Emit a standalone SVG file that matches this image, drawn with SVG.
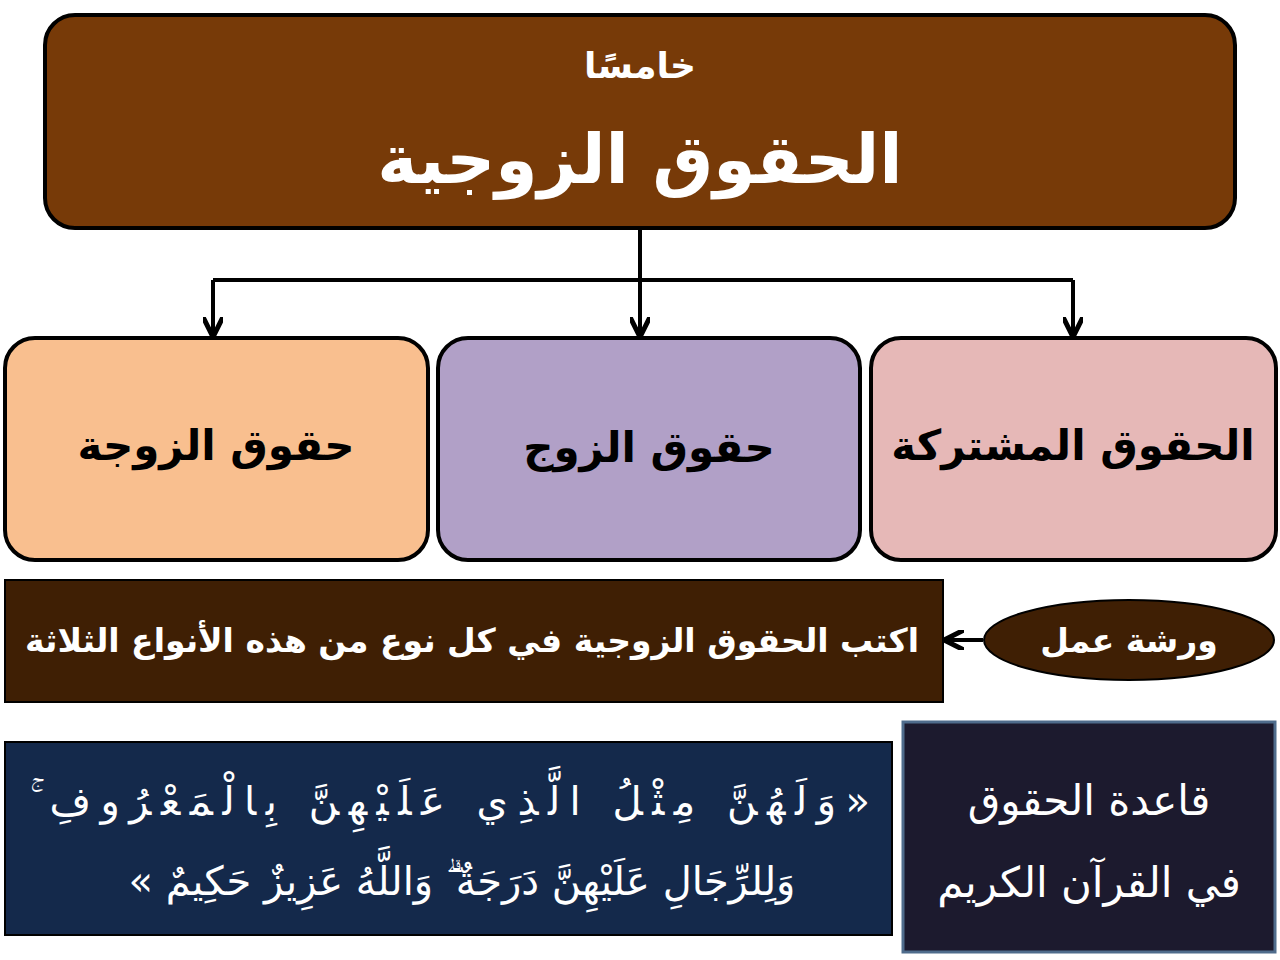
<svg xmlns="http://www.w3.org/2000/svg" width="1280" height="960" viewBox="0 0 1280 960">
<style>
text{font-family:"DejaVu Sans","Noto Sans",sans-serif;text-anchor:middle;direction:rtl}
.w{fill:#fff}.b{fill:#000}.bold{font-weight:bold}
.box{stroke:#000;stroke-width:4}
.con{stroke:#000;stroke-width:4;fill:none}
</style>
<defs>
<marker id="ah" viewBox="0 0 10 10" refX="8" refY="5" markerWidth="5" markerHeight="5" orient="auto"><path d="M0,0 L10,5 L0,10" fill="none" stroke="#000" stroke-width="2.5"/></marker>
</defs>
<rect width="1280" height="960" fill="#fff"/>
<g id="title">
<rect class="box" x="45" y="15" width="1190" height="213" rx="30" fill="#773A08"/>
<text class="w bold" x="640" y="78" font-size="36">خامسًا</text>
<text class="w bold" x="640" y="183" font-size="68">الحقوق الزوجية</text>
</g>
<g id="connectors">
<path class="con" d="M640,228 V280"/>
<path class="con" d="M213,280 H1073"/>
<path class="con" d="M213,280 V333" marker-end="url(#ah)"/>
<path class="con" d="M640,280 V333" marker-end="url(#ah)"/>
<path class="con" d="M1073,280 V333" marker-end="url(#ah)"/>
<path class="con" d="M983,640 H948" marker-end="url(#ah)"/>
</g>
<g id="wife">
<rect class="box" x="5" y="338" width="423" height="222" rx="30" fill="#F9BF8F"/>
<text class="b bold" x="216" y="460" font-size="42">حقوق الزوجة</text>
</g>
<g id="husband">
<rect class="box" x="438" y="338" width="422" height="222" rx="30" fill="#B1A0C7"/>
<text class="b bold" x="649" y="462" font-size="42">حقوق الزوج</text>
</g>
<g id="shared">
<rect class="box" x="871" y="338" width="405" height="222" rx="30" fill="#E6B8B7"/>
<text class="b bold" x="1073" y="460" font-size="42">الحقوق المشتركة</text>
</g>
<g id="task">
<rect x="5" y="580" width="938" height="122" fill="#3F1F04" stroke="#000" stroke-width="2"/>
<text class="w bold" x="472" y="652" font-size="33">اكتب الحقوق الزوجية في كل نوع من هذه الأنواع الثلاثة</text>
</g>
<g id="workshop">
<ellipse cx="1129" cy="640" rx="145" ry="40" fill="#3F1F04" stroke="#000" stroke-width="2"/>
<text class="w bold" x="1129" y="652" font-size="33">ورشة عمل</text>
</g>
<g id="verse">
<rect x="5" y="742" width="887" height="193" fill="#14294B" stroke="#000" stroke-width="2"/>
<text class="w" x="450" y="815" font-size="40" textLength="840" lengthAdjust="spacing">«وَلَهُنَّ مِثْلُ الَّذِي عَلَيْهِنَّ بِالْمَعْرُوفِ ۚ</text>
<text class="w" x="462" y="895" font-size="40">وَلِلرِّجَالِ عَلَيْهِنَّ دَرَجَةٌ ۗ وَاللَّهُ عَزِيزٌ حَكِيمٌ »</text>
</g>
<g id="rule">
<rect x="903" y="722" width="372" height="230" fill="#1C1A2E" stroke="#4F6C8C" stroke-width="3"/>
<text class="w" x="1089" y="815" font-size="42">قاعدة الحقوق</text>
<text class="w" x="1089" y="897" font-size="42">في القرآن الكريم</text>
</g>
</svg>
